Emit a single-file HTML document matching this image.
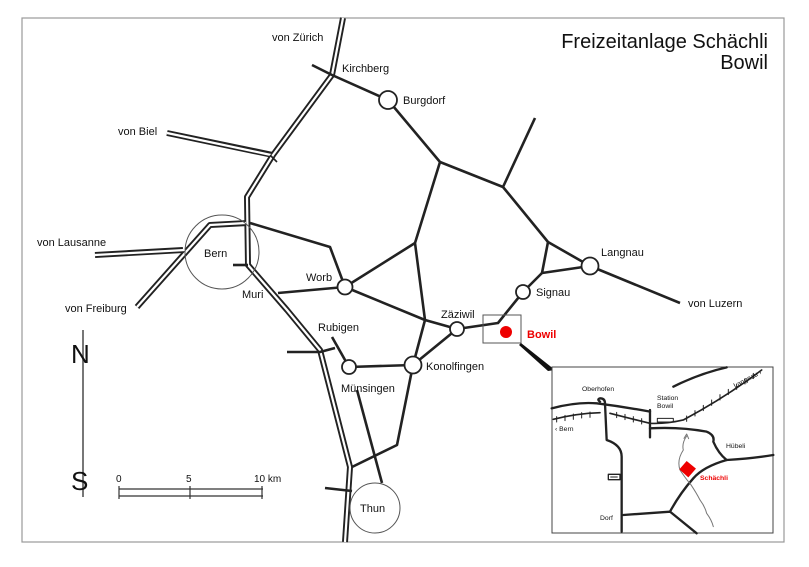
<!DOCTYPE html>
<html><head><meta charset="utf-8"><style>
html,body{margin:0;padding:0;background:#fff;}
svg{display:block;}
text{font-family:"Liberation Sans",sans-serif;fill:#111;}
</style></head><body>
<svg width="809" height="567" viewBox="0 0 809 567" xmlns="http://www.w3.org/2000/svg">
<rect x="0" y="0" width="809" height="567" fill="#fff"/>
<rect x="22" y="18" width="762" height="524" fill="none" stroke="#999" stroke-width="1.2"/>

<g fill="none" stroke-linejoin="round">
 <g stroke="#222" stroke-width="6">
  <polyline points="343,18 332,75 273,155 247,197 248,265 287,310 320,350 350,467 345,542"/>
  <polyline points="167,133 273,155"/>
  <polyline points="95,255 183,250"/>
  <polyline points="137,307 210,225 248,223"/>
 </g>
 <g stroke="#fff" stroke-width="2.2">
  <polyline points="343,18 332,75 273,155 247,197 248,265 287,310 320,350 350,467 345,542"/>
  <polyline points="167,133 271,155"/>
  <polyline points="95,255 185,250"/>
  <polyline points="137,307 210,225 246,223"/>
 </g>
</g>

<circle cx="222" cy="252" r="37" fill="none" stroke="#555" stroke-width="1"/>

<g fill="none" stroke="#222" stroke-width="2.6" stroke-linejoin="round">
 <polyline points="312,65 332,75 388,100 440,162 503,187 548,242 590,266 680,303"/>
 <polyline points="503,187 535,118"/>
 <polyline points="548,242 542,273 590,266"/>
 <polyline points="542,273 523,292 498,323 457,329 425,320 345,287"/>
 <polyline points="440,162 415,243 425,320 413,365 397,445 352,467"/>
 <polyline points="415,243 345,287"/>
 <polyline points="345,287 330,247 250,223"/>
 <polyline points="278,293 345,287"/>
 <polyline points="457,329 413,365 349,367"/>
 <polyline points="332,337 349,367"/>
 <polyline points="357,390 382,483"/>
 <polyline points="287,352 320,352 335,348"/>
 <polyline points="325,488 352,491"/>
 <polyline points="233,265 248,265"/>
</g>
<g stroke="#222" stroke-width="1.6">
 <line x1="270" y1="155" x2="277" y2="162"/>
</g>
<circle cx="375" cy="508" r="25" fill="#fff" stroke="#555" stroke-width="1"/>

<g fill="#fff" stroke="#222" stroke-width="1.8">
 <circle cx="388" cy="100" r="9"/>
 <circle cx="590" cy="266" r="8.5"/>
 <circle cx="523" cy="292" r="7"/>
 <circle cx="457" cy="329" r="7"/>
 <circle cx="345" cy="287" r="7.5"/>
 <circle cx="413" cy="365" r="8.5"/>
 <circle cx="349" cy="367" r="7"/>
</g>

<rect x="483" y="315" width="38" height="28" fill="none" stroke="#555" stroke-width="1"/>
<circle cx="506" cy="332" r="6" fill="#e00"/>
<text x="527" y="338" font-size="11" font-weight="bold" style="fill:#e00">Bowil</text>
<polygon points="521,343 555,370 548,371 519,345" fill="#111"/>

<rect x="552" y="367" width="221" height="166" fill="#fff" stroke="#444" stroke-width="1"/>
<g transform="translate(540,360) scale(0.3333)" fill="none" stroke-linejoin="round" stroke-linecap="round">
 <g stroke="#222" stroke-width="7">
  <path d="M35,145 Q110,125 170,130 Q250,140 330,155"/>
  <path d="M400,80 Q480,40 560,22"/>
  <path d="M180,125 Q170,118 180,115 Q195,115 195,130 L200,240 Q245,255 245,290 L245,515"/>
  <path d="M330,150 L330,232"/>
  <path d="M330,205 Q420,200 500,215 Q525,225 520,245 Q535,280 560,300 Q640,295 700,285"/>
  <path d="M560,300 Q490,320 460,355 Q420,400 390,455"/>
  <path d="M250,465 L390,455 L470,520"/>
 </g>
 <g stroke="#222" stroke-width="5">
  <path d="M40,178 Q110,160 180,158"/>
  <path d="M210,160 Q280,178 330,190 Q380,192 430,180 Q560,110 665,30"/>
 </g>
 <g stroke="#222" stroke-width="3">
  <path d="M50,170v16M75,166v16M100,162v16M125,158v16M150,156v16M230,157v16M255,163v16M280,170v16M305,176v16M440,168v16M465,152v16M490,136v16M515,120v16M540,104v16M565,88v16M590,72v16M615,56v16M640,40v16"/>
 </g>
 <rect x="352" y="175" width="48" height="11" stroke="#222" stroke-width="3"/>
 <rect x="205" y="343" width="35" height="16" stroke="#222" stroke-width="4"/>
 <path d="M212,351h20" stroke="#222" stroke-width="3"/>
 <path d="M440,228 Q425,250 430,270 Q410,300 420,330 Q440,360 450,370 Q470,400 480,420 Q495,440 500,460 Q515,480 520,500" stroke="#777" stroke-width="3"/>
 <path d="M432,235 L440,222 L446,236" stroke="#777" stroke-width="3"/>
 <polygon points="440,303 468,326 445,352 418,328" fill="#e00" stroke="none"/>
</g>
<g font-size="6.8">
 <text x="582" y="391">Oberhofen</text>
 <text x="657" y="400">Station</text>
 <text x="657" y="408">Bowil</text>
 <text x="555" y="431">‹ Bern</text>
 <text x="735" y="388" transform="rotate(-28 735 388)">Langnau ›</text>
 <text x="726" y="448">Hübeli</text>
 <text x="600" y="520">Dorf</text>
 <text x="700" y="480" font-weight="bold" style="fill:#e00">Schächli</text>
</g>

<line x1="83" y1="330" x2="83" y2="497" stroke="#555" stroke-width="1.6"/>
<text x="71" y="363" font-size="26">N</text>
<text x="71" y="490" font-size="26">S</text>
<g stroke="#333" stroke-width="1.2">
 <line x1="119" y1="489" x2="263" y2="489"/>
 <line x1="119" y1="496" x2="263" y2="496"/>
 <line x1="119" y1="486" x2="119" y2="499"/>
 <line x1="190" y1="486" x2="190" y2="499"/>
 <line x1="262" y1="486" x2="262" y2="499"/>
</g>
<g font-size="10">
 <text x="116" y="482">0</text>
 <text x="186" y="482">5</text>
 <text x="254" y="482">10 km</text>
</g>

<g font-size="11">
 <text x="272" y="41">von Zürich</text>
 <text x="342" y="72">Kirchberg</text>
 <text x="403" y="104">Burgdorf</text>
 <text x="118" y="135">von Biel</text>
 <text x="37" y="246">von Lausanne</text>
 <text x="204" y="257">Bern</text>
 <text x="65" y="312">von Freiburg</text>
 <text x="242" y="298">Muri</text>
 <text x="306" y="281">Worb</text>
 <text x="318" y="331">Rubigen</text>
 <text x="441" y="318">Zäziwil</text>
 <text x="536" y="296">Signau</text>
 <text x="601" y="256">Langnau</text>
 <text x="688" y="307">von Luzern</text>
 <text x="426" y="370">Konolfingen</text>
 <text x="341" y="392">Münsingen</text>
 <text x="360" y="512">Thun</text>
</g>
<text x="768" y="48" font-size="20" text-anchor="end">Freizeitanlage Schächli</text>
<text x="768" y="69" font-size="20" text-anchor="end">Bowil</text>
</svg>
</body></html>
